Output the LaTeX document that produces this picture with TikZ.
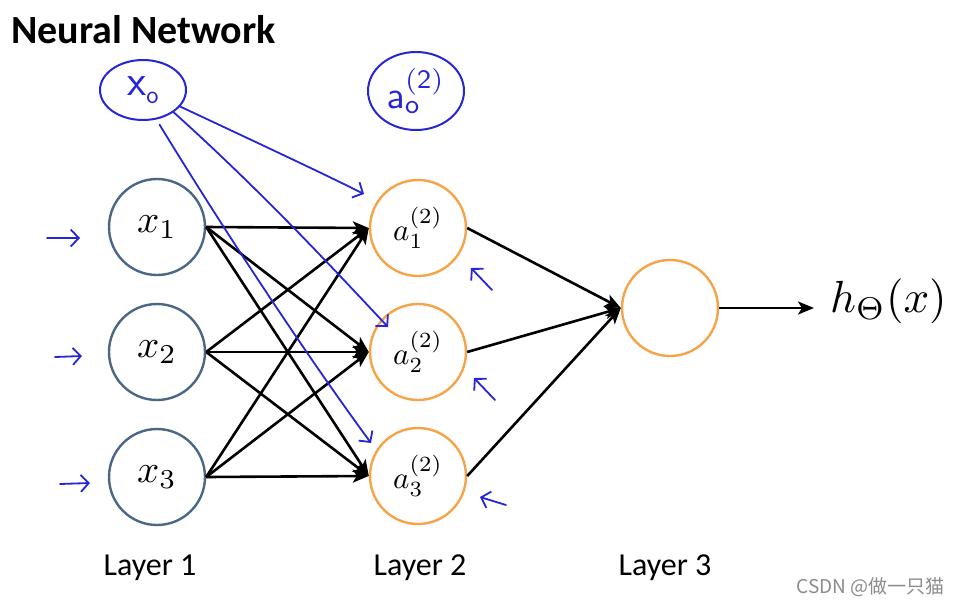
\RequirePackage{fix-cm}
\documentclass[tikz,border=0pt]{standalone}
\usepackage[no-math]{fontspec}
\usepackage{graphicx}
\newfontfamily\calibri{Carlito}
\newfontfamily\cjk{Noto Sans CJK SC}
\usetikzlibrary{arrows.meta,shapes.geometric}
\definecolor{inblue}{RGB}{74,104,134}
\definecolor{orng}{RGB}{246,164,72}
\definecolor{pen}{RGB}{38,38,214}
\begin{document}
\begin{tikzpicture}[x=1pt,y=-1pt,
  inn/.style={circle,draw=inblue,line width=2.4pt,minimum size=96pt,inner sep=0pt},
  hid/.style={circle,draw=orng,line width=2.4pt,minimum size=96pt,inner sep=0pt},
  conn/.style={line width=2.6pt,-{Stealth[length=16pt,width=13pt,inset=4pt]}},
  penl/.style={pen,line width=1.8pt,line cap=round,line join=round},
  penarr/.style={penl,-{Straight Barb[length=8pt,width=17pt]}},
  lab/.style={font=\calibri\fontsize{32}{36}\selectfont,anchor=base,inner sep=0pt}]
\useasboundingbox (0,0) rectangle (959,606);
\fill[white] (0,0) rectangle (959,606);

% title
\node[font=\calibri\bfseries\fontsize{40}{42}\selectfont,anchor=base west,inner sep=0pt] (title) at (11,43) {Neural Network};

% layer 1
\node[inn] (x1) at (157,227) {\scalebox{3.9}{$x_1$}};
\node[inn] (x2) at (157,352) {\scalebox{3.9}{$x_2$}};
\node[inn] (x3) at (157,477) {\scalebox{3.9}{$x_3$}};
% layer 2
\node[hid] (a1) at (418,228) {\scalebox{3.1}{$a^{(2)}_1$}};
\node[hid] (a2) at (418,352) {\scalebox{3.1}{$a^{(2)}_2$}};
\node[hid] (a3) at (418,476) {\scalebox{3.1}{$a^{(2)}_3$}};
% layer 3
\node[hid] (out) at (670,308) {};
\node[anchor=west,inner sep=0pt] (h) at (830,301) {\scalebox{4.5}{$h_\Theta(x)$}};

% connections
\foreach \i in {1,2,3}{
  \foreach \j in {1,2,3}{
    \draw[conn] (x\i.east) -- (a\j.west);
  }
  \draw[conn] (a\i.east) -- (out.west);
}
\draw[conn,shorten >=16pt] (out.east) -- (out.east -| h.west);

% layer labels
\node[lab] (l1) at (150,575) {Layer 1};
\node[lab] (l2) at (420,575) {Layer 2};
\node[lab] (l3) at (665,575) {Layer 3};

% handwritten bias units
\node[ellipse,draw=pen,line width=2pt,minimum width=86pt,minimum height=60pt,inner sep=0pt,
      text=pen,font=\sffamily\fontsize{44}{46}\selectfont] (x0) at (143,90)
      {\raisebox{-4pt}{x}\raisebox{-12pt}{\fontsize{26}{28}\selectfont o}};
\node[ellipse,draw=pen,line width=2pt,minimum width=96pt,minimum height=78pt,inner sep=0pt,
      text=pen] (a0) at (416,91)
      {\scalebox{3.8}{$\mathsf{a}^{\mathsf{(2)}}_{\mathsf{o}}$}};

% handwritten arrows from x0
\coordinate (tA) at (364,194);
\coordinate (tB) at (388,327);
\coordinate (tC) at (371,443);
\draw[penarr] (x0.-24) .. controls (260,144) and (320,172) .. (tA);
\draw[penarr] (x0.-36) .. controls (260,190) and (330,265) .. (tB);
\draw[penarr] ([yshift=-6pt]x0.-60) .. controls (230,240) and (310,360) .. (tC);

% small handwritten input marks
\draw[penarr] (47,238) -- (80,238);
\draw[penarr] (55,357) -- (82,356);
\draw[penarr] (60,484) -- (90,483);
% small handwritten marks near hidden units
\draw[penarr] (492,290) -- (471,268);
\draw[penarr] (495,400) -- (474,378);
\draw[penarr] (506,505) -- (480,497);

% watermark
\node[font=\cjk\fontsize{19}{21}\selectfont,text=black!45,anchor=base east,inner sep=0pt] (wm) at (945,593) {CSDN @做一只猫};
\end{tikzpicture}
\end{document}
